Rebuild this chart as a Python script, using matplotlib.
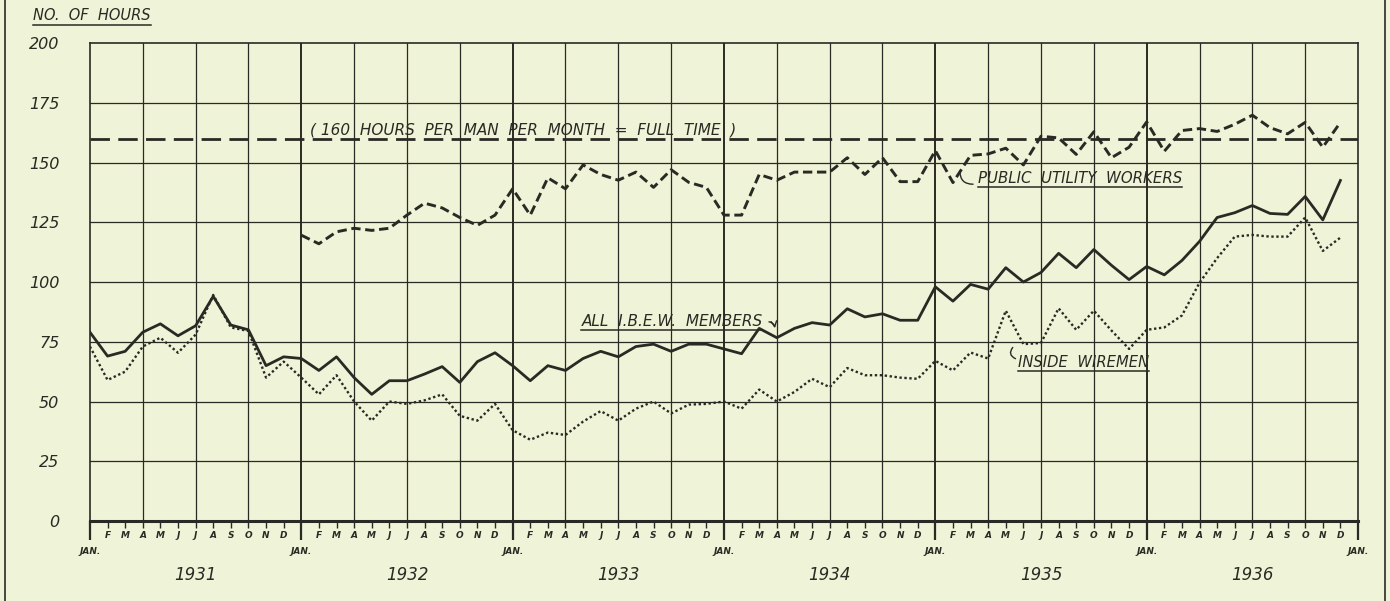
import matplotlib
matplotlib.use('Agg')
import matplotlib.pyplot as plt
from matplotlib.lines import Line2D
from matplotlib.ticker import FixedLocator, FixedFormatter

# months are counted from Jan 1931 (0) to Dec 1936 (71)
years = ['1931', '1932', '1933', '1934', '1935', '1936']
month_letters = ['F', 'M', 'A', 'M', 'J', 'J', 'A', 'S', 'O', 'N', 'D']
y_ticks = [0, 25, 50, 75, 100, 125, 150, 175, 200]
full_time = 160

all_ibew = [
    79, 69, 71, 79, 82.5, 77.5, 81.7, 94, 82, 80, 65, 68.7,
    68, 63, 68.7, 60, 53, 58.7, 58.7, 61.5, 64.6, 58, 66.7, 70.4,
    65, 58.7, 65, 63, 68, 71, 68.7, 73, 74, 71, 74, 74,
    72, 70, 80.6, 76.7, 80.6, 83, 82, 88.8, 85.4, 86.7, 84, 84,
    98, 92, 99, 97, 106, 100, 104, 112, 106, 113.6, 107, 101,
    106.5, 103, 109, 117, 127, 129, 132, 128.7, 128.3, 135.8, 126, 142.5,
]
inside_wiremen = [
    73, 59, 62.5, 73, 76.7, 70.4, 78, 94.6, 81, 79.5, 60, 66.7,
    60, 53, 61, 50, 42, 50, 49, 50.5, 53, 44, 42, 49,
    38, 34, 37, 36, 41.6, 46, 42, 47, 50, 45, 48.7, 49,
    50, 47, 55, 50, 54, 59.5, 56, 64, 61, 61, 60, 59.5,
    67, 63, 70.5, 68, 88, 74, 74.5, 89, 80, 88, 79.7, 72,
    80, 81, 86, 99.7, 110, 119, 119.7, 119, 119, 127, 113, 118.6,
]
utility_start = 12  # public utility series begins Jan 1932
public_utility = [
    119.6, 116, 121, 122.5, 121.6, 122.5, 128, 133, 131, 127, 123.7, 128,
    139, 128, 143.6, 139, 149, 145, 142.6, 146, 139.6, 147, 141.7, 139.6,
    128, 128, 145, 142.6, 146, 146, 146, 152, 145, 152, 142, 142,
    155, 141.6, 153, 153.6, 156, 149, 161, 160.3, 153.4, 162.9, 152, 156.4,
    167, 154.7, 163.4, 164.2, 163, 166, 169.8, 164.6, 162, 166.8, 156.4, 166.8,
]

INK = '#2a2a24'
PAPER = '#eff3d7'

plt.rcParams['font.family'] = 'DejaVu Sans'

fig = plt.figure(figsize=(13.9, 6.01), dpi=100, facecolor=PAPER)
ax = fig.add_axes([0.0647, 0.1331, 0.9123, 0.7953])
ax.set_facecolor(PAPER)

n_months = len(years) * 12
ax.set_xlim(0, n_months)
ax.set_ylim(0, 200)

# grid: horizontal every 25 hours, vertical every quarter
for v in y_ticks[1:-1]:
    ax.axhline(v, color=INK, lw=0.9, zorder=1)
for m in range(3, n_months, 3):
    ax.axvline(m, color=INK, lw=1.4 if m % 12 == 0 else 0.9, zorder=1)

for side in ['left', 'right', 'top']:
    ax.spines[side].set_color(INK)
    ax.spines[side].set_linewidth(1.2)
ax.spines['bottom'].set_color(INK)
ax.spines['bottom'].set_linewidth(2.2)

# series
months = list(range(n_months))
ax.plot(months, all_ibew, color=INK, lw=2.0, zorder=3)
ax.plot(months, inside_wiremen, color=INK, lw=1.7, linestyle=(0, (1, 1.1)), zorder=3)
util_x = list(range(utility_start, utility_start + len(public_utility)))
ax.plot(util_x, public_utility, color=INK, lw=2.1, linestyle=(0, (3.2, 1.6)), zorder=3)
ax.axhline(full_time, color=INK, lw=2.0, linestyle=(0, (7, 3)), zorder=2)

# y axis
ax.set_yticks(y_ticks)
ax.set_yticklabels([str(v) for v in y_ticks], fontsize=11.5, style='italic', color=INK)
ax.tick_params(axis='y', length=0, pad=22)

# x axis: long ticks at each January, short ticks at the other months
jan_pos = list(range(0, n_months + 1, 12))
other_pos = [m for m in range(n_months) if m % 12 != 0]
ax.xaxis.set_major_locator(FixedLocator(jan_pos))
ax.xaxis.set_major_formatter(FixedFormatter(['JAN.'] * len(jan_pos)))
ax.xaxis.set_minor_locator(FixedLocator(other_pos))
ax.xaxis.set_minor_formatter(FixedFormatter([month_letters[m % 12 - 1] for m in other_pos]))
ax.tick_params(axis='x', which='major', length=14, width=1.6, color=INK, pad=5,
               labelsize=6.5, labelcolor=INK)
ax.tick_params(axis='x', which='minor', length=5, width=1.0, color=INK, pad=2,
               labelsize=6.5, labelcolor=INK)
for lab in ax.get_xticklabels(which='both'):
    lab.set_style('italic')
    lab.set_fontweight('bold')

for i, yr in enumerate(years):
    ax.text(12 * i + 6, -0.113, yr, transform=ax.get_xaxis_transform(),
            ha='center', va='center', fontsize=12, style='italic', color=INK)

# annotations
label_kw = dict(style='italic', color=INK, zorder=4)
t_full = ax.text(24.6, 160.6, '( 160  HOURS  PER  MAN  PER  MONTH  =  FULL  TIME  )',
                 ha='center', va='bottom', fontsize=11, **label_kw)
t_util = ax.text(50.4, 143.5, 'PUBLIC  UTILITY  WORKERS', ha='left', va='center',
                 fontsize=10.8, **label_kw)
t_ibew = ax.text(27.9, 83.5, 'ALL  I.B.E.W.  MEMBERS', ha='left', va='center',
                 fontsize=11, **label_kw)
t_wire = ax.text(52.7, 66.5, 'INSIDE  WIREMEN', ha='left', va='center',
                 fontsize=10.6, **label_kw)

curl = dict(arrowstyle='-', color=INK, lw=1.0)
ax.annotate('', xy=(49.4, 147.5), xytext=(50.3, 141.0),
            arrowprops=dict(connectionstyle='arc3,rad=-0.6', **curl))
ax.annotate('', xy=(38.9, 79.5), xytext=(38.4, 83.5),
            arrowprops=dict(arrowstyle='->', color=INK, lw=1.0,
                            connectionstyle='arc3,rad=-0.5'))
ax.annotate('', xy=(52.5, 73.5), xytext=(52.7, 67.5),
            arrowprops=dict(connectionstyle='arc3,rad=-0.8', **curl))

hdr = fig.text(33 / 1390, 1 - 16 / 601, 'NO.  OF  HOURS', ha='left', va='center',
               fontsize=10.5, style='italic', color=INK)

# underline the labels
fig.canvas.draw()
renderer = fig.canvas.get_renderer()
inv = fig.transFigure.inverted()
for t in [t_util, t_ibew, t_wire, hdr]:
    bb = t.get_window_extent(renderer)
    (x0, y0), (x1, y1) = inv.transform([(bb.x0, bb.y0 - 1), (bb.x1, bb.y0 - 1)])
    fig.add_artist(Line2D([x0, x1], [y0, y1], color=INK, lw=1.1))

# frame lines at the page edges
fig.add_artist(Line2D([5 / 1390, 5 / 1390], [0, 1], color=INK, lw=1.2))
fig.add_artist(Line2D([1385 / 1390, 1385 / 1390], [0, 1], color=INK, lw=1.2))

fig.savefig('out.png', dpi=100, facecolor=PAPER)
